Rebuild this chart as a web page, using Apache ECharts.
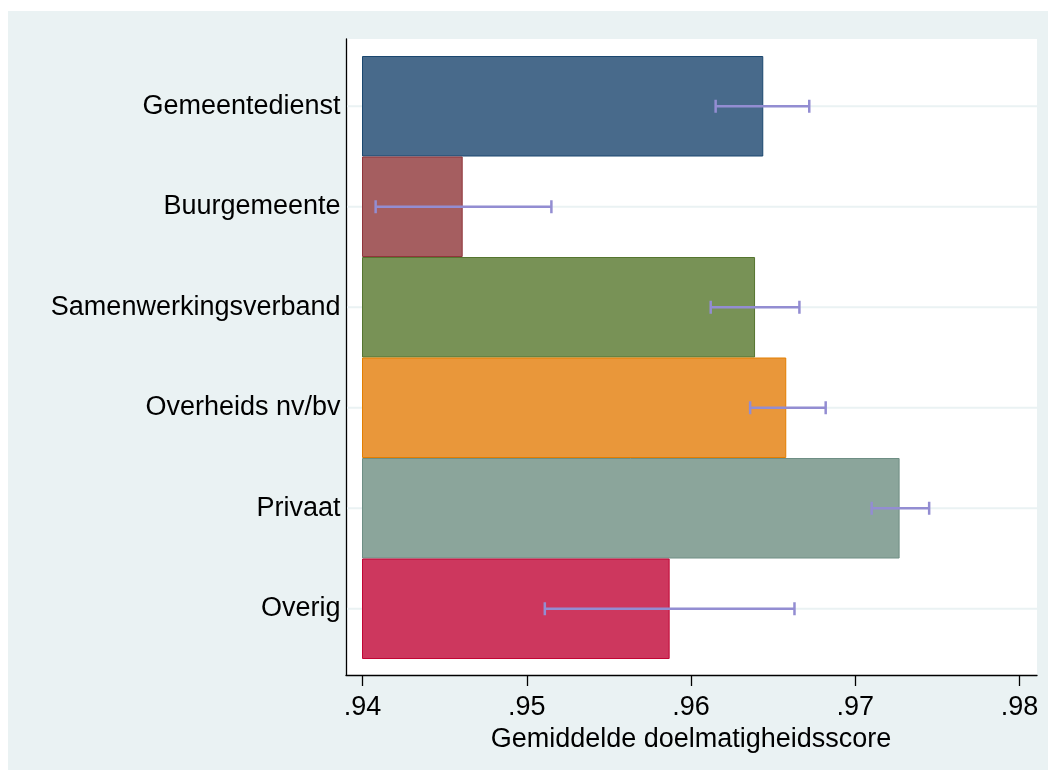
<!DOCTYPE html>
<html>
<head>
<meta charset="utf-8">
<script src="https://cdn.jsdelivr.net/npm/echarts@6/dist/echarts.min.js"></script>
<style>
  html, body { margin: 0; padding: 0; background: #fff; }
  #chart { width: 1048px; height: 770px; }
</style>
</head>
<body>
<div id="chart"></div>
<script>
// data
var categories = ['Gemeentedienst', 'Buurgemeente', 'Samenwerkingsverband', 'Overheids nv/bv', 'Privaat', 'Overig'];
var means  = [0.9644, 0.9461, 0.9639, 0.9658, 0.9727, 0.9587];
var ciLow  = [0.9615, 0.9408, 0.9612, 0.9636, 0.9710, 0.9511];
var ciHigh = [0.9672, 0.9515, 0.9666, 0.9682, 0.9745, 0.9663];
var xMin = 0.94, xMax = 0.98, xStep = 0.01;

var barColors  = ['#486a8b', '#a55e60', '#789256', '#e9973a', '#8ba59b', '#cd375e'];
var barBorders = ['#1a476f', '#90353b', '#55752f', '#e37e00', '#6e8e84', '#c10534'];

var font = "'Liberation Sans', Arial, sans-serif";
var fs = 27;
var myChart = echarts.init(document.getElementById('chart'));

// outer frame (plot region) vs inner region (where bars live)
var frameTop = 39, frameBottom = 675;
var innerTop = 56, innerBottom = 659;
var band = (innerBottom - innerTop) / categories.length;
var firstCenter = innerTop + band / 2;
var yMin = -(firstCenter - frameTop) / band;
var yMax = (frameBottom - firstCenter) / band;

var option = {
  animation: false,
  graphic: [{
    type: 'rect', z: -100, silent: true,
    shape: { x: 8, y: 11, width: 1040, height: 759 },
    style: { fill: '#eaf2f3' }
  }],
  grid: [
    { left: 346, right: 11, top: frameTop, bottom: 770 - frameBottom,
      show: true, backgroundColor: '#fff', borderWidth: 0 },
    { left: 362.5, right: 28.5, top: innerTop, bottom: 770 - innerBottom }
  ],
  xAxis: [
    { type: 'value', gridIndex: 0, min: 0, max: 1, position: 'bottom',
      axisLine: { show: true, onZero: false, lineStyle: { color: '#000', width: 1.3 } },
      axisTick: { show: false }, axisLabel: { show: false }, splitLine: { show: false } },
    { type: 'value', gridIndex: 1, min: xMin, max: xMax, interval: xStep,
      position: 'bottom', offset: frameBottom - innerBottom,
      axisLine: { show: false, onZero: false },
      axisTick: { show: true, length: 11, lineStyle: { color: '#000', width: 1.3 } },
      axisLabel: { margin: 19, color: '#000', fontSize: fs, fontFamily: font,
        formatter: function (v) { return v.toFixed(2).replace(/^0/, ''); } },
      splitLine: { show: false },
      name: 'Gemiddelde doelmatigheidsscore', nameLocation: 'middle', nameGap: 44,
      nameTextStyle: { color: '#000', fontSize: fs, fontFamily: font } }
  ],
  yAxis: [
    { type: 'value', gridIndex: 0, inverse: true, min: yMin, max: yMax, position: 'left',
      axisLine: { show: true, onZero: false, lineStyle: { color: '#000', width: 1.3 } },
      axisTick: { show: false }, axisLabel: { show: false }, splitLine: { show: false } },
    { type: 'category', gridIndex: 1, inverse: true, data: categories,
      axisLine: { show: false }, axisTick: { show: false },
      axisLabel: { margin: 22, color: '#000', fontSize: fs, fontFamily: font } }
  ],
  series: [
    // horizontal grid lines at each category
    { type: 'custom', xAxisIndex: 0, yAxisIndex: 0, z: 1, silent: true,
      data: categories.map(function (c, i) { return [0, i]; }),
      renderItem: function (params, api) {
        var y = api.coord([0, api.value(1)])[1];
        var cs = params.coordSys;
        return { type: 'line',
          shape: { x1: cs.x + 1, y1: y, x2: cs.x + cs.width, y2: y },
          style: { stroke: '#eaf2f3', lineWidth: 2 } };
      } },
    { type: 'bar', xAxisIndex: 1, yAxisIndex: 1, z: 2,
      barCategoryGap: '0%',
      data: means.map(function (v, i) {
        return { value: v, itemStyle: { color: barColors[i], borderColor: barBorders[i], borderWidth: 1 } };
      }) },
    // confidence intervals
    { type: 'custom', xAxisIndex: 1, yAxisIndex: 1, z: 3,
      data: categories.map(function (c, i) { return [i, ciLow[i], ciHigh[i]]; }),
      renderItem: function (params, api) {
        var idx = api.value(0);
        var p1 = api.coord([api.value(1), idx]);
        var p2 = api.coord([api.value(2), idx]);
        var h = 6.5;
        var st = { stroke: '#938dd2', lineWidth: 2.5 };
        return { type: 'group', children: [
          { type: 'line', shape: { x1: p1[0], y1: p1[1], x2: p2[0], y2: p2[1] }, style: st },
          { type: 'line', shape: { x1: p1[0], y1: p1[1] - h, x2: p1[0], y2: p1[1] + h }, style: st },
          { type: 'line', shape: { x1: p2[0], y1: p2[1] - h, x2: p2[0], y2: p2[1] + h }, style: st }
        ] };
      } }
  ]
};

myChart.setOption(option);
</script>
</body>
</html>
